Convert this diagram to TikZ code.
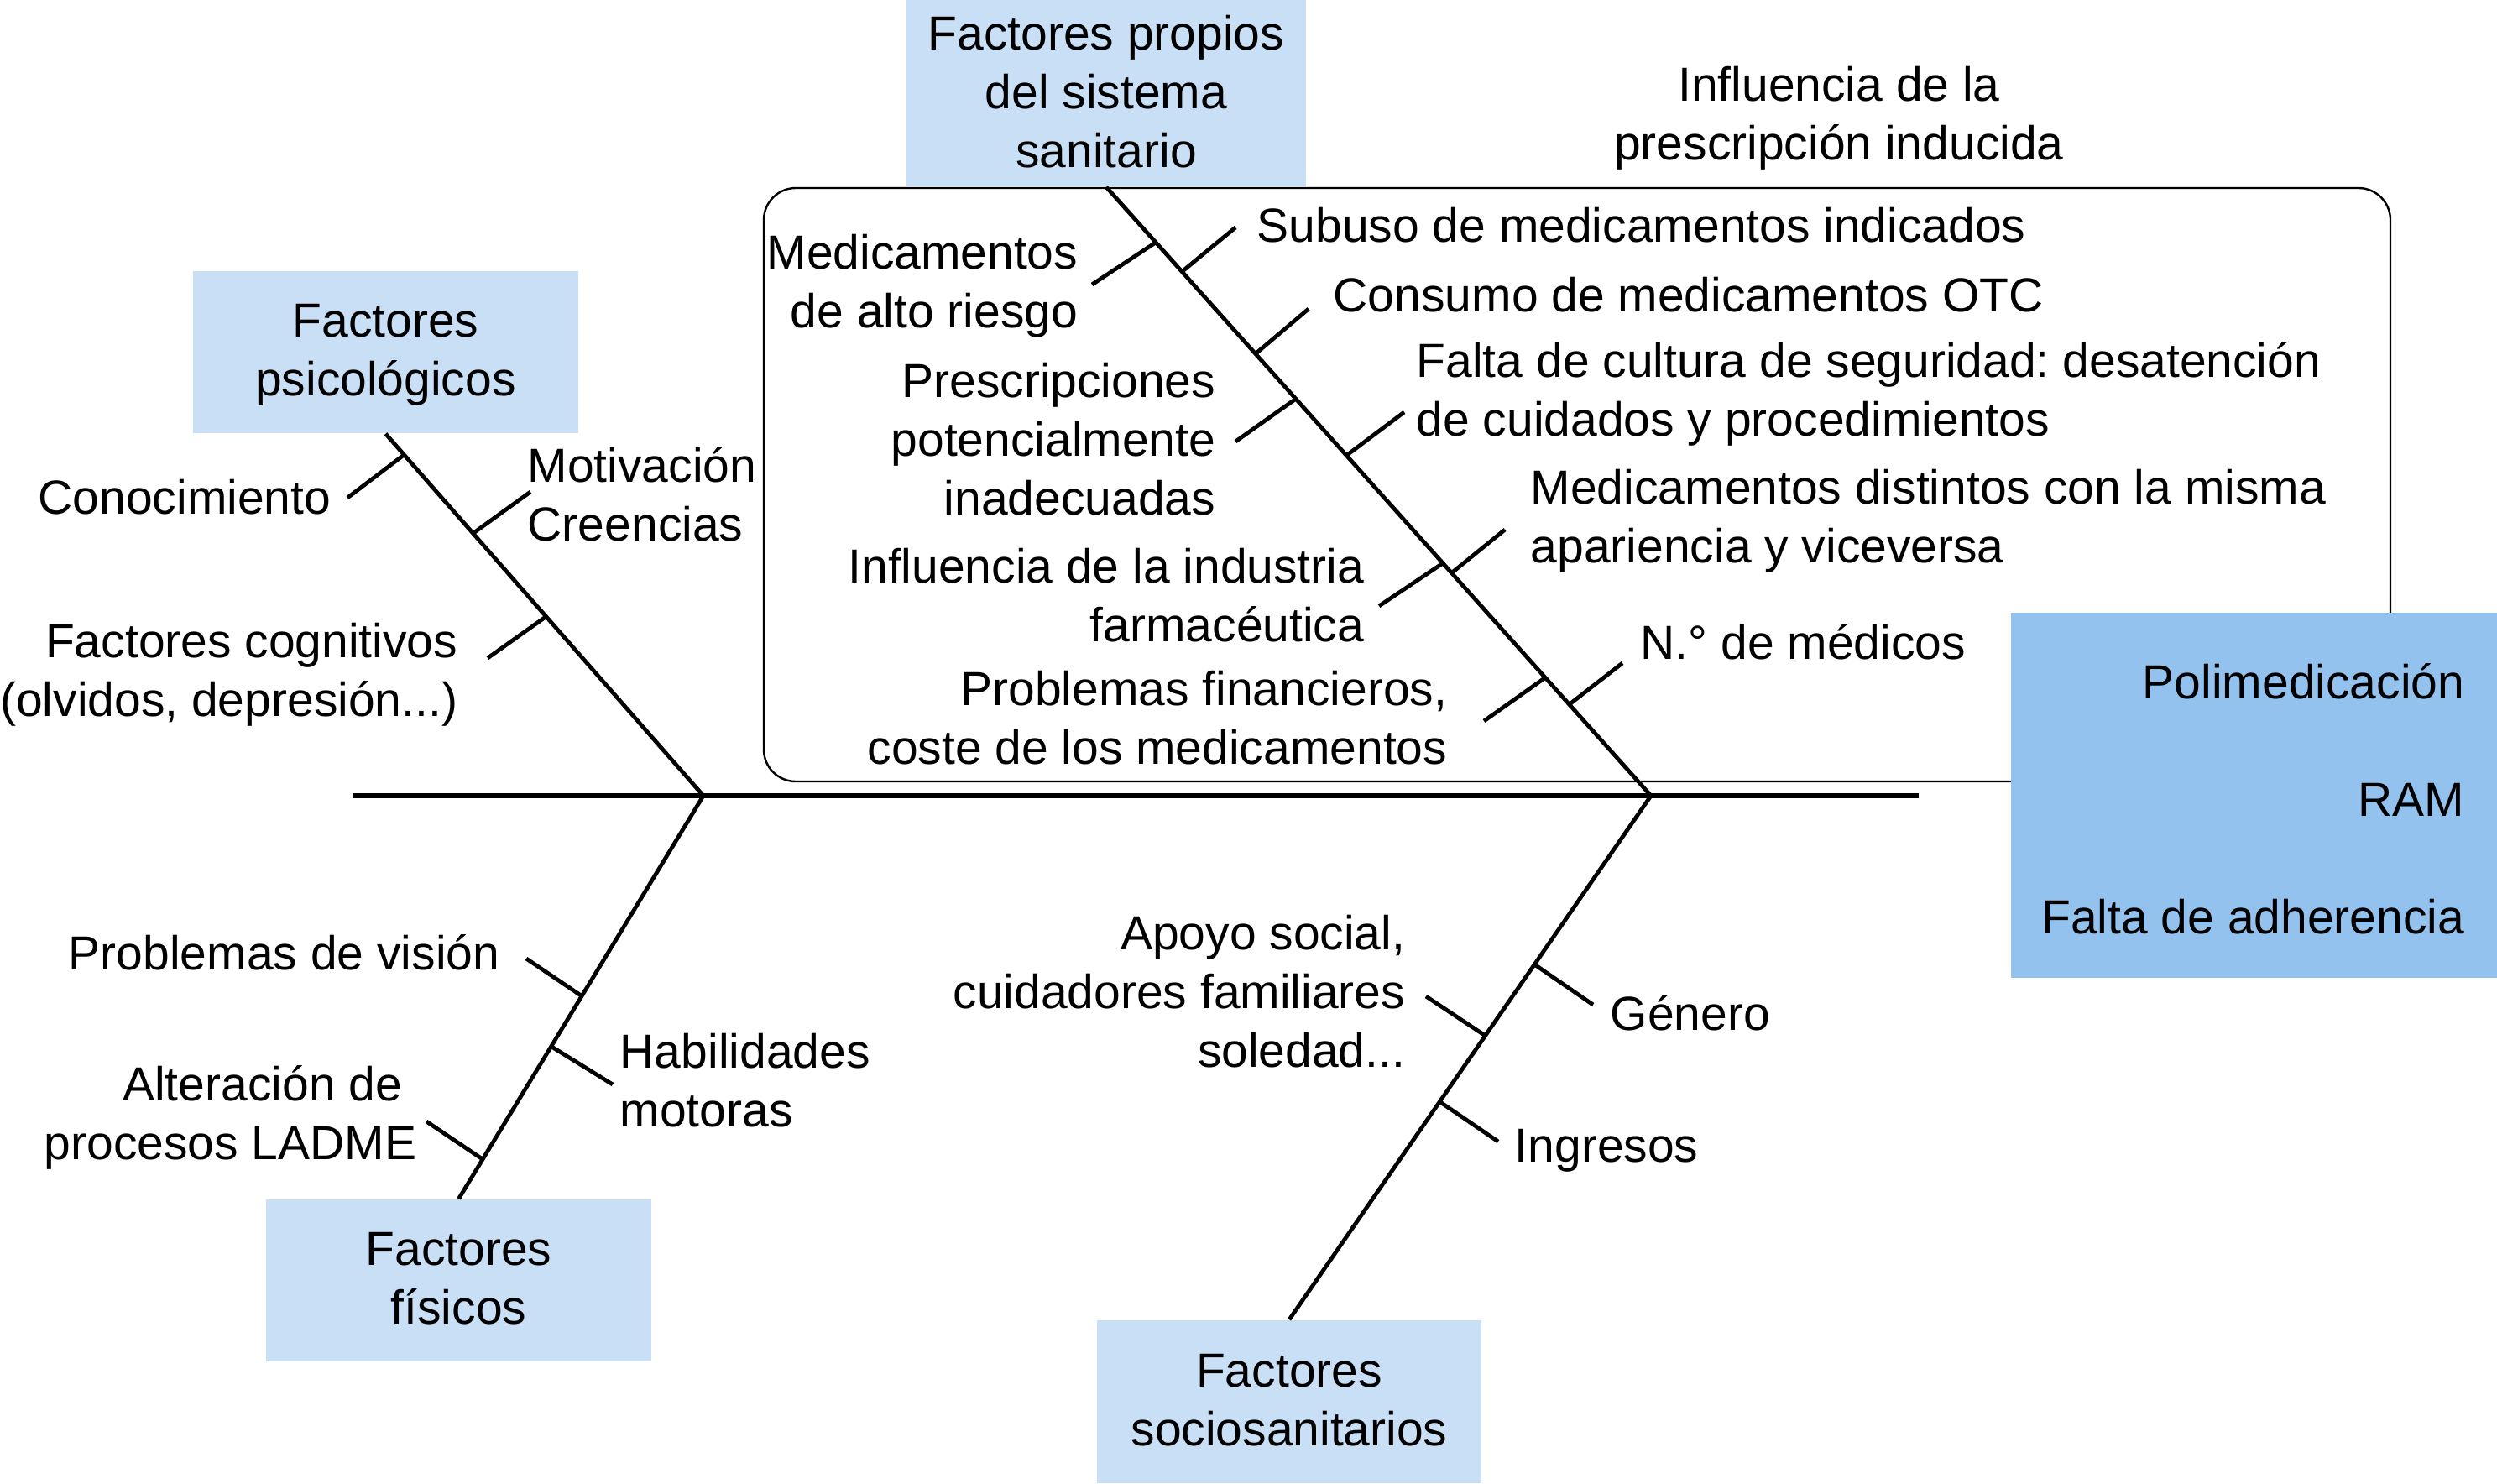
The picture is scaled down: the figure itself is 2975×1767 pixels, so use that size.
\documentclass[tikz,border=0pt]{standalone}
\usepackage{fontspec}
\setmainfont{Liberation Sans}
\usetikzlibrary{calc}
\definecolor{lightbox}{HTML}{C9DFF5}
\definecolor{darkbox}{HTML}{93C2EE}
\frenchspacing
\begin{document}
\begin{tikzpicture}[x=0.25pt,y=-0.25pt,
  every node/.style={font=\fontsize{14.25}{17.5}\selectfont, inner sep=0pt},
  lbl/.style={yshift=-2pt, execute at begin node=\strut, execute at end node=\strut},
  lblL/.style={lbl, anchor=west, align=left},
  lblR/.style={lbl, anchor=east, align=right},
  lblC/.style={lbl, anchor=center, align=center},
  catbox/.style={fill=lightbox},
  effbox/.style={fill=darkbox},
  bone/.style={line width=1.2pt},
  tickline/.style={line width=1.2pt},
  spine/.style={line width=1.5pt},
  frame/.style={line width=0.6pt, rounded corners=9.5pt}]
\useasboundingbox (0,0) rectangle (2975,1767);

% framed group
\draw[frame] (910,224) rectangle (2848,931);

% category boxes
\node[catbox, minimum width=119pt, minimum height=55.5pt] (sis) at (1318,111) {};
\node[lblC] (sisText) at (sis.center) {Factores propios\\del sistema\\sanitario};
\node[catbox, minimum width=114.75pt, minimum height=48.25pt] (psy) at (459.5,419.5) {};
\node[lblC] (psyText) at (psy.center) {Factores\\psicológicos};
\node[catbox, minimum width=114.75pt, minimum height=48.25pt] (fis) at (546.5,1525.5) {};
\node[lblC] (fisText) at (fis.center) {Factores\\físicos};
\node[catbox, minimum width=114.5pt, minimum height=48.5pt] (soc) at (1536,1670) {};
\node[lblC] (socText) at (soc.center) {Factores\\sociosanitarios};

% effect box
\node[effbox, minimum width=144.75pt, minimum height=108.75pt] (eff) at (2685.5,947.5) {};
\node[lblR] (effText) at (2937,954) {Polimedicación\\[17.5pt]RAM\\[17.5pt]Falta de adherencia};

% spine
\coordinate (S0) at (421,948);
\coordinate (S1) at (2286,948);
\coordinate (J1) at (838,948);
\coordinate (J2) at (1967,948);
\draw[spine] (S0) -- (S1);

% main bones
\draw[bone] (psy.south) -- (J1);
\draw[bone] (sis.south) -- (J2);
\draw[bone] (fis.north) -- (J1);
\draw[bone] (soc.north) -- (J2);

% ticks: psychological
\coordinate (tCon) at (414,593);
\coordinate (tMot) at (632,586);
\coordinate (tCog) at (581,784);
\draw[tickline] ($(psy.south)!0.058!(J1)$) -- (tCon);
\draw[tickline] ($(psy.south)!0.275!(J1)$) -- (tMot);
\draw[tickline] ($(psy.south)!0.505!(J1)$) -- (tCog);

% ticks: health system
\coordinate (tAlt) at (1301,339);
\coordinate (tSub) at (1472,271);
\coordinate (tOTC) at (1559,368);
\coordinate (tPre) at (1472,526);
\coordinate (tCul) at (1673,491);
\coordinate (tInd) at (1643,722);
\coordinate (tDis) at (1793,631);
\coordinate (tFin) at (1768,859);
\coordinate (tNum) at (1933,790);
\draw[tickline] ($(sis.south)!0.091!(J2)$) -- (tAlt);
\draw[tickline] ($(sis.south)!0.139!(J2)$) -- (tSub);
\draw[tickline] ($(sis.south)!0.274!(J2)$) -- (tOTC);
\draw[tickline] ($(sis.south)!0.348!(J2)$) -- (tPre);
\draw[tickline] ($(sis.south)!0.441!(J2)$) -- (tCul);
\draw[tickline] ($(sis.south)!0.618!(J2)$) -- (tInd);
\draw[tickline] ($(sis.south)!0.634!(J2)$) -- (tDis);
\draw[tickline] ($(sis.south)!0.806!(J2)$) -- (tFin);
\draw[tickline] ($(sis.south)!0.850!(J2)$) -- (tNum);

% ticks: physical
\coordinate (tVis) at (627,1142);
\coordinate (tHab) at (730,1292);
\coordinate (tLad) at (508,1336);
\draw[tickline] ($(J1)!0.497!(fis.north)$) -- (tVis);
\draw[tickline] ($(J1)!0.622!(fis.north)$) -- (tHab);
\draw[tickline] ($(J1)!0.902!(fis.north)$) -- (tLad);

% ticks: socio-sanitary
\coordinate (tGen) at (1898,1197);
\coordinate (tApo) at (1699,1187);
\coordinate (tIng) at (1785,1360);
\draw[tickline] ($(J2)!0.322!(soc.north)$) -- (tGen);
\draw[tickline] ($(J2)!0.458!(soc.north)$) -- (tApo);
\draw[tickline] ($(J2)!0.584!(soc.north)$) -- (tIng);

% labels
\node[lblC] (lInf) at (2191,137.5) {Influencia de la\\prescripción inducida};
\node[lblR] (lCon) at (395,590) {Conocimiento};
\node[lblL] (lMot) at (628,591) {Motivación\\Creencias};
\node[lblR] (lCog) at (546,800) {Factores cognitivos\\(olvidos, depresión...)};
\node[lblR] (lAlt) at (1285,337) {Medicamentos\\de alto riesgo};
\node[lblL] (lSub) at (1497,266) {Subuso de medicamentos indicados};
\node[lblL] (lOTC) at (1588,349) {Consumo de medicamentos OTC};
\node[lblL] (lCul) at (1687,466) {Falta de cultura de seguridad: desatención\\de cuidados y procedimientos};
\node[lblR] (lPre) at (1449,525) {Prescripciones\\potencialmente\\inadecuadas};
\node[lblR] (lInd) at (1626,711.5) {Influencia de la industria\\farmacéutica};
\node[lblL] (lDis) at (1823,617.5) {Medicamentos distintos con la misma\\apariencia y viceversa};
\node[lblL] (lNum) at (1954,763) {N.° de médicos};
\node[lblR] (lFin) at (1725,857) {Problemas financieros,\\coste de los medicamentos};
\node[lblR] (lVis) at (596,1133) {Problemas de visión};
\node[lblR] (lLad) at (497,1328) {Alteración de\hspace*{4.3pt}\\procesos LADME};
\node[lblL] (lHab) at (738,1289) {Habilidades\\motoras};
\node[lblR] (lApo) at (1675,1183) {Apoyo social,\\cuidadores familiares\\soledad...};
\node[lblL] (lGen) at (1918,1205) {Género};
\node[lblL] (lIng) at (1804,1362) {Ingresos};
\end{tikzpicture}
\end{document}
